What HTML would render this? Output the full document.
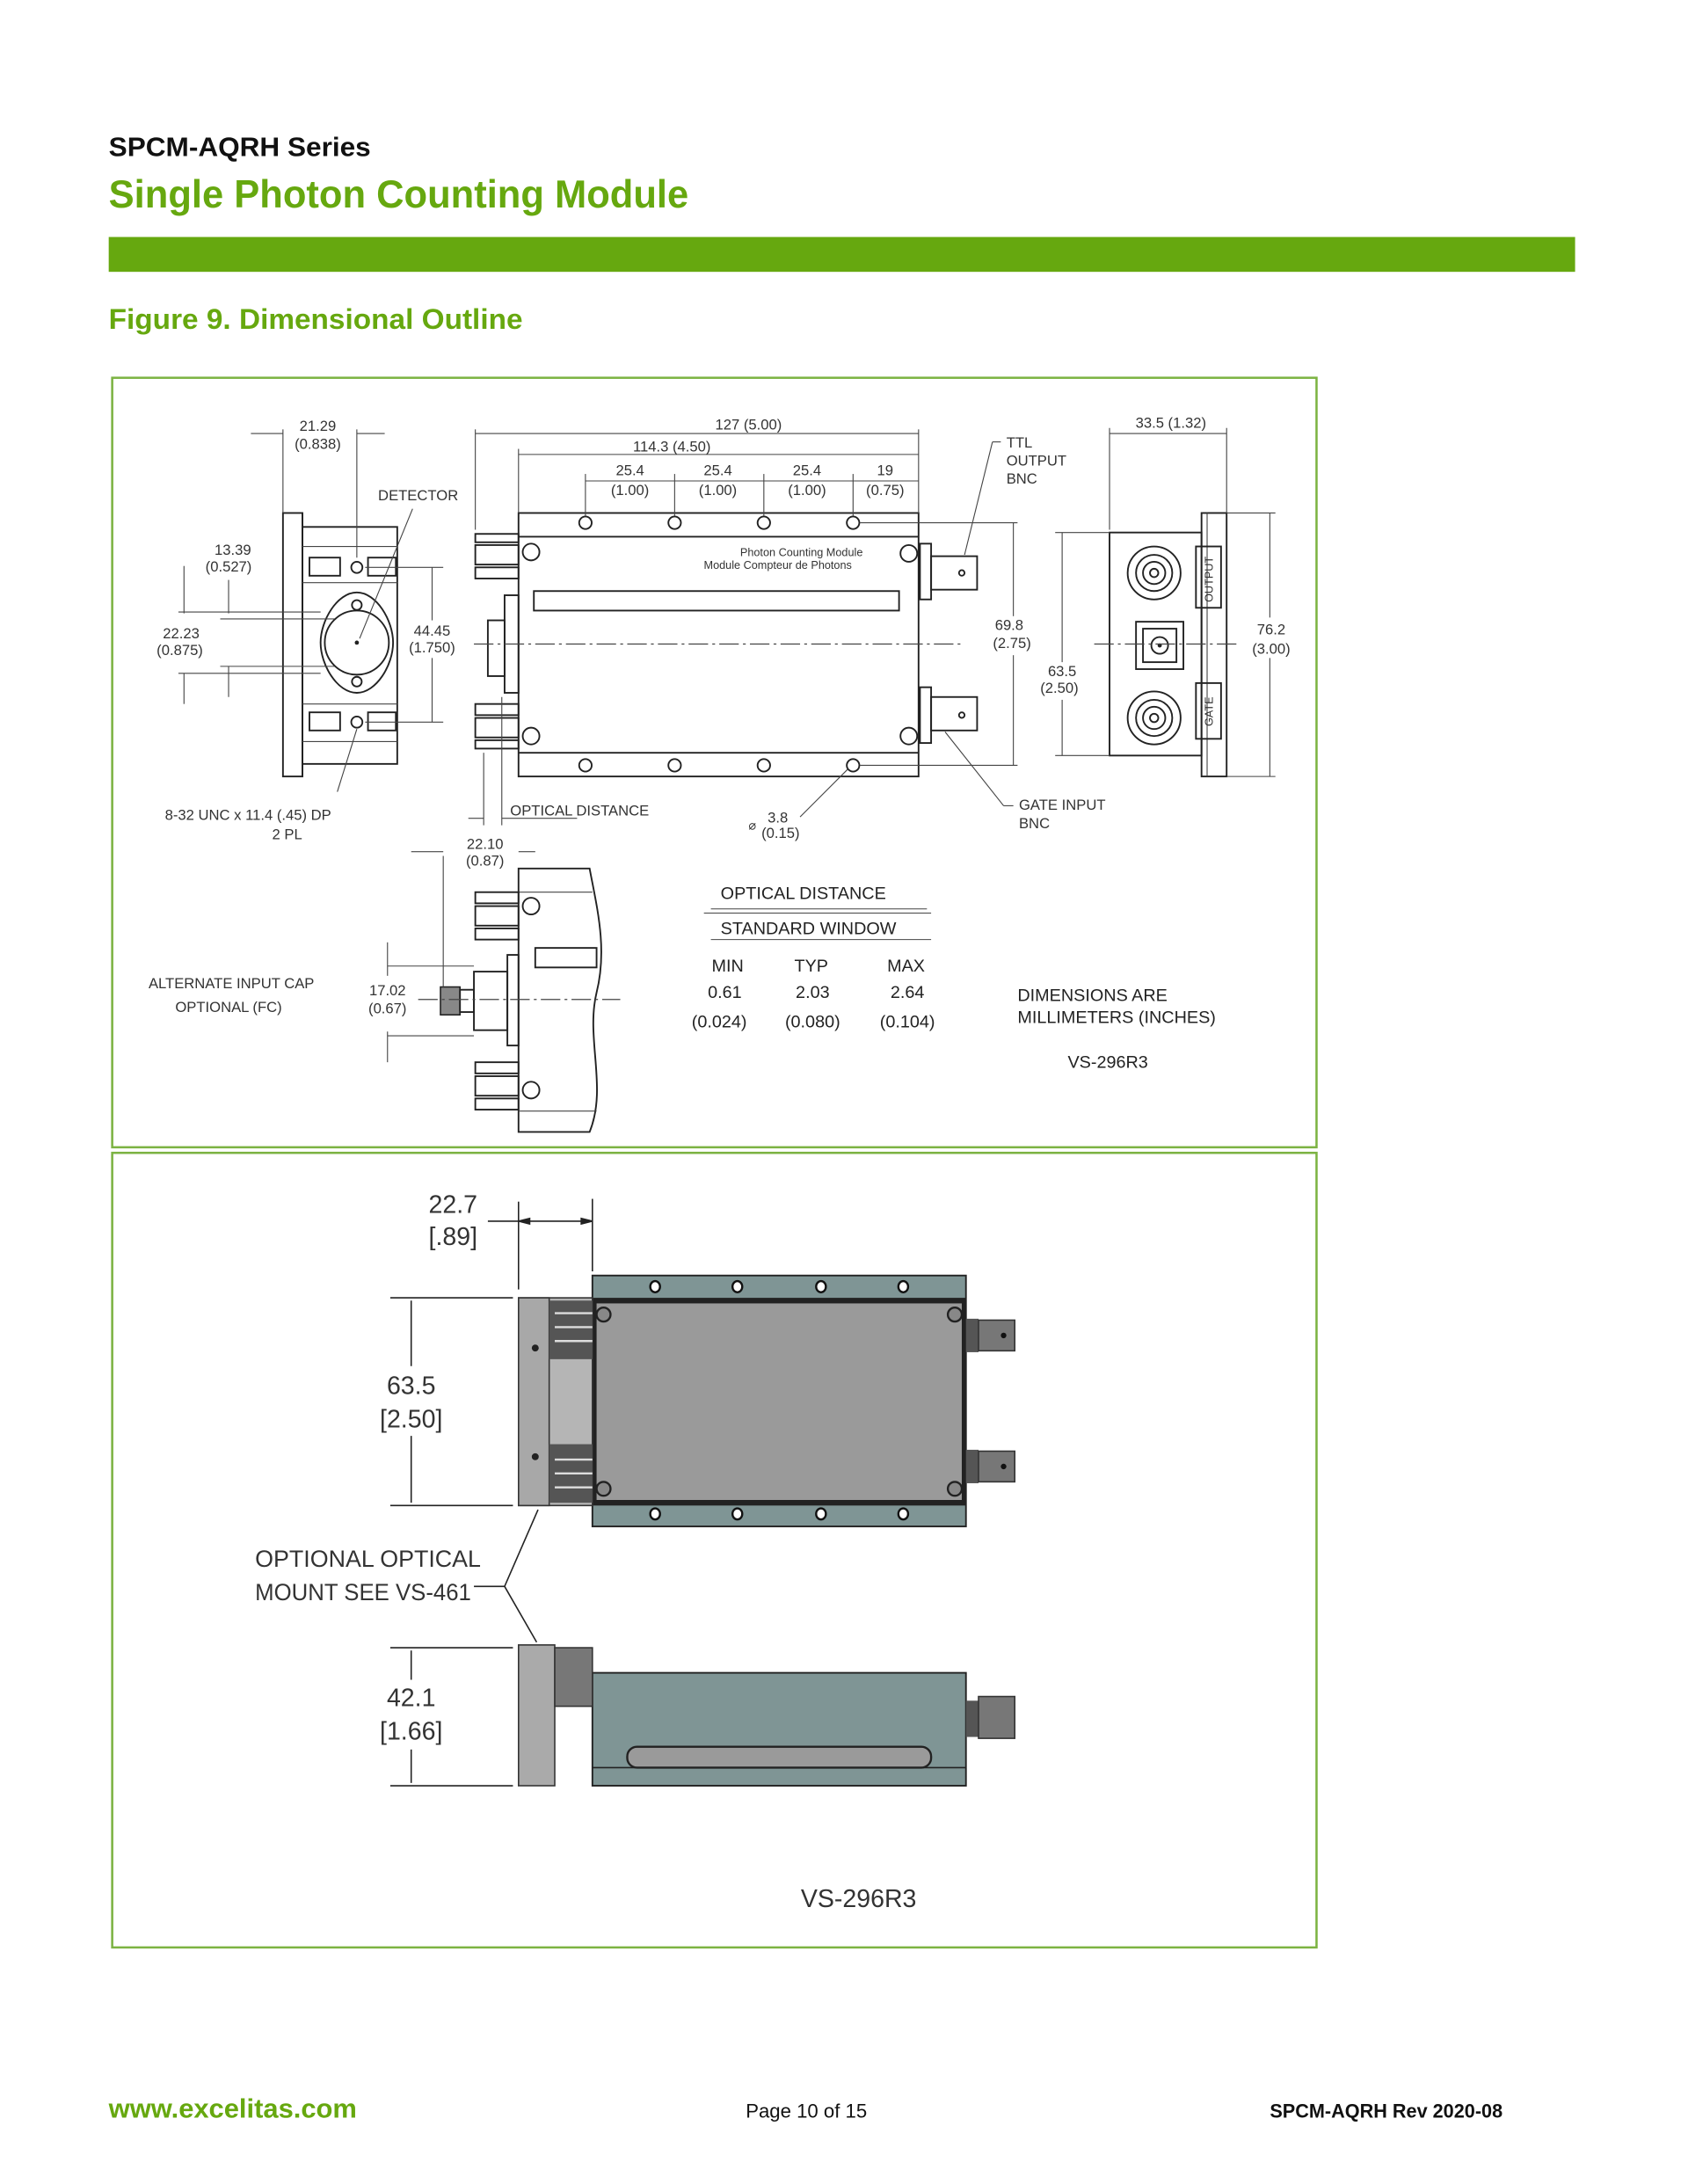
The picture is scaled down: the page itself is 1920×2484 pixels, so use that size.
<!DOCTYPE html>
<html><head><meta charset="utf-8"><style>
html,body{margin:0;padding:0;background:#fff}
svg{display:block}
text{font-family:"Liberation Sans",sans-serif}
.d{font-size:10.5px;fill:#333}
.k{stroke:#222;fill:none;stroke-width:1.2}
.t{stroke:#444;fill:none;stroke-width:0.7}
.c{stroke:#444;stroke-width:0.8;stroke-dasharray:14 3 2 3;fill:none}
</style></head><body>
<svg width="1920" height="2484" viewBox="0 0 1211 1566.7" preserveAspectRatio="none" xmlns="http://www.w3.org/2000/svg">
<!-- header -->
<text x="78" y="112" font-size="19.5" font-weight="bold" fill="#111" textLength="188" lengthAdjust="spacingAndGlyphs">SPCM-AQRH Series</text>
<text x="78" y="149" font-size="28" font-weight="bold" fill="#66a80f" textLength="416" lengthAdjust="spacingAndGlyphs">Single Photon Counting Module</text>
<rect x="78" y="170" width="1052" height="25" fill="#66a80f"/>
<text x="78" y="236" font-size="20.5" font-weight="bold" fill="#66a80f" textLength="297" lengthAdjust="spacingAndGlyphs">Figure 9.  Dimensional Outline</text>
<rect x="80.5" y="271" width="864" height="552" fill="none" stroke="#7cb342" stroke-width="1.6"/>
<rect x="80.5" y="827" width="864" height="570" fill="none" stroke="#7cb342" stroke-width="1.6"/>

<!-- ===== front view (left) ===== -->
<g>
<rect x="203" y="368" width="14" height="189" class="k"/>
<rect x="217" y="378" width="68" height="170" class="k"/>
<line x1="217" y1="368" x2="217" y2="557" class="k"/>
<rect x="222" y="400" width="22" height="13" class="k"/><rect x="264" y="400" width="20" height="13" class="k"/>
<rect x="222" y="511" width="22" height="13" class="k"/><rect x="264" y="511" width="20" height="13" class="k"/>
<line x1="217" y1="418" x2="285" y2="418" class="t"/><line x1="217" y1="505" x2="285" y2="505" class="t"/>
<line x1="217" y1="392" x2="285" y2="392" class="t"/><line x1="217" y1="532" x2="285" y2="532" class="t"/>
<circle cx="256" cy="407" r="4" class="k"/><circle cx="256" cy="518" r="4" class="k"/>
<path d="M256 425 C270 425 282 445 282 461 C282 477 270 497 256 497 C242 497 230 477 230 461 C230 445 242 425 256 425Z" class="k"/>
<circle cx="256" cy="461" r="23" class="k"/><circle cx="256" cy="461" r="1.5" fill="#222"/>
<circle cx="256" cy="434" r="3.5" class="k"/><circle cx="256" cy="489" r="3.5" class="k"/>
<line x1="203" y1="308" x2="203" y2="368" class="t"/><line x1="256" y1="308" x2="256" y2="400" class="t"/>
<line x1="180" y1="311" x2="203" y2="311" class="t"/><line x1="256" y1="311" x2="276" y2="311" class="t"/>
<text x="228" y="309" class="d" text-anchor="middle">21.29</text><text x="228" y="322" class="d" text-anchor="middle">(0.838)</text>
<text x="300" y="359" class="d" text-anchor="middle" font-size="11">DETECTOR</text>
<line x1="296" y1="365" x2="258" y2="458" class="t"/>
<text x="167" y="398" class="d" text-anchor="middle">13.39</text><text x="164" y="410" class="d" text-anchor="middle">(0.527)</text>
<line x1="132" y1="406" x2="132" y2="440" class="t"/><line x1="164" y1="416" x2="164" y2="440" class="t"/>
<line x1="128" y1="439" x2="230" y2="439" class="t"/><line x1="158" y1="444" x2="240" y2="444" class="t"/>
<line x1="158" y1="478" x2="240" y2="478" class="t"/><line x1="128" y1="483" x2="230" y2="483" class="t"/>
<line x1="164" y1="478" x2="164" y2="500" class="t"/><line x1="132" y1="483" x2="132" y2="505" class="t"/>
<text x="130" y="458" class="d" text-anchor="middle">22.23</text><text x="129" y="470" class="d" text-anchor="middle">(0.875)</text>
<line x1="262" y1="407" x2="318" y2="407" class="t"/><line x1="262" y1="518" x2="318" y2="518" class="t"/>
<line x1="310" y1="407" x2="310" y2="445" class="t"/><line x1="310" y1="472" x2="310" y2="518" class="t"/>
<text x="310" y="456" class="d" text-anchor="middle">44.45</text><text x="310" y="468" class="d" text-anchor="middle">(1.750)</text>
<line x1="242" y1="568" x2="256" y2="523" class="t"/>
<text x="178" y="588" class="d" text-anchor="middle">8-32 UNC x 11.4 (.45) DP</text><text x="206" y="602" class="d" text-anchor="middle">2 PL</text>
</g>

<!-- ===== side view (middle) ===== -->
<g>
<rect x="372" y="368" width="287" height="189" class="k"/>
<line x1="372" y1="385" x2="659" y2="385" class="k" stroke-width="2"/>
<line x1="372" y1="540" x2="659" y2="540" class="k" stroke-width="2"/>
<g class="k"><circle cx="420" cy="375" r="4.5"/><circle cx="484" cy="375" r="4.5"/><circle cx="548" cy="375" r="4.5"/><circle cx="612" cy="375" r="4.5"/>
<circle cx="420" cy="549" r="4.5"/><circle cx="484" cy="549" r="4.5"/><circle cx="548" cy="549" r="4.5"/><circle cx="612" cy="549" r="4.5"/></g>
<rect x="383" y="424" width="262" height="14" class="k"/>
<g class="k"><circle cx="381" cy="396" r="6"/><circle cx="652" cy="397" r="6"/><circle cx="381" cy="528" r="6"/><circle cx="652" cy="528" r="6"/></g>
<text x="575" y="399" font-size="8" fill="#333" text-anchor="middle">Photon Counting Module</text>
<text x="558" y="408" font-size="8" fill="#333" text-anchor="middle">Module Compteur de Photons</text>
<rect x="341" y="383" width="31" height="6" class="k"/><rect x="341" y="391" width="31" height="14" class="k"/><rect x="341" y="407" width="31" height="8" class="k"/>
<rect x="341" y="505" width="31" height="8" class="k"/><rect x="341" y="515" width="31" height="14" class="k"/><rect x="341" y="531" width="31" height="6" class="k"/>
<rect x="362" y="427" width="10" height="70" class="k"/><rect x="350" y="445" width="12" height="40" class="k"/>
<rect x="660" y="390" width="8" height="40" class="k"/><rect x="668" y="399" width="33" height="24" class="k"/><circle cx="690" cy="411" r="2" class="k"/>
<rect x="660" y="493" width="8" height="40" class="k"/><rect x="668" y="500" width="33" height="24" class="k"/><circle cx="690" cy="513" r="2" class="k"/>
<line x1="340" y1="462" x2="690" y2="462" class="c"/>
<line x1="341" y1="308" x2="341" y2="380" class="t"/><line x1="659" y1="308" x2="659" y2="368" class="t"/>
<line x1="341" y1="311" x2="659" y2="311" class="t"/>
<text x="537" y="308" class="d" text-anchor="middle">127 (5.00)</text>
<line x1="372" y1="322" x2="372" y2="368" class="t"/><line x1="372" y1="326" x2="659" y2="326" class="t"/>
<text x="482" y="324" class="d" text-anchor="middle">114.3 (4.50)</text>
<line x1="420" y1="340" x2="420" y2="370" class="t"/><line x1="484" y1="340" x2="484" y2="370" class="t"/><line x1="548" y1="340" x2="548" y2="370" class="t"/><line x1="612" y1="340" x2="612" y2="370" class="t"/>
<line x1="420" y1="345" x2="659" y2="345" class="t"/>
<text x="452" y="341" class="d" text-anchor="middle">25.4</text><text x="452" y="355" class="d" text-anchor="middle">(1.00)</text>
<text x="515" y="341" class="d" text-anchor="middle">25.4</text><text x="515" y="355" class="d" text-anchor="middle">(1.00)</text>
<text x="579" y="341" class="d" text-anchor="middle">25.4</text><text x="579" y="355" class="d" text-anchor="middle">(1.00)</text>
<text x="635" y="341" class="d" text-anchor="middle">19</text><text x="635" y="355" class="d" text-anchor="middle">(0.75)</text>
<line x1="692" y1="398" x2="712" y2="317" class="t"/><line x1="712" y1="317" x2="718" y2="317" class="t"/>
<text x="722" y="321" class="d">TTL</text><text x="722" y="334" class="d">OUTPUT</text><text x="722" y="347" class="d">BNC</text>
<line x1="617" y1="375" x2="730" y2="375" class="t"/><line x1="617" y1="549" x2="730" y2="549" class="t"/>
<line x1="727" y1="375" x2="727" y2="442" class="t"/><line x1="727" y1="470" x2="727" y2="549" class="t"/>
<text x="724" y="452" class="d" text-anchor="middle">69.8</text><text x="726" y="465" class="d" text-anchor="middle">(2.75)</text>
<line x1="678" y1="525" x2="720" y2="578" class="t"/><line x1="720" y1="578" x2="727" y2="578" class="t"/>
<text x="731" y="581" class="d">GATE INPUT</text><text x="731" y="594" class="d">BNC</text>
<line x1="574" y1="586" x2="608" y2="552" class="t"/>
<text x="537" y="595" font-size="9" fill="#333">⌀</text><text x="558" y="590" class="d" text-anchor="middle">3.8</text><text x="560" y="601" class="d" text-anchor="middle">(0.15)</text>
<line x1="347" y1="540" x2="347" y2="592" class="t"/><line x1="360" y1="500" x2="360" y2="592" class="t"/>
<line x1="336" y1="587" x2="347" y2="587" class="t"/><line x1="360" y1="587" x2="414" y2="587" class="t"/>
<text x="366" y="585" class="d" font-size="11">OPTICAL DISTANCE</text>
</g>

<!-- ===== end view (right) ===== -->
<g>
<rect x="796" y="382" width="66" height="160" class="k"/>
<rect x="862" y="368" width="18" height="189" class="k"/>
<line x1="866" y1="368" x2="866" y2="557" class="t"/>
<circle cx="828" cy="411" r="19" class="k"/><circle cx="828" cy="411" r="13" class="k"/><circle cx="828" cy="411" r="8" class="k"/><circle cx="828" cy="411" r="3" class="k"/>
<rect x="815" y="446" width="34" height="34" class="k"/><rect x="820" y="451" width="24" height="24" class="k"/><circle cx="832" cy="463" r="6" class="k"/><circle cx="832" cy="463" r="1.5" fill="#222"/>
<circle cx="828" cy="515" r="19" class="k"/><circle cx="828" cy="515" r="13" class="k"/><circle cx="828" cy="515" r="8" class="k"/><circle cx="828" cy="515" r="3" class="k"/>
<rect x="858" y="392" width="18" height="44" class="k"/><rect x="858" y="490" width="18" height="40" class="k"/>
<text transform="translate(870,432) rotate(-90)" font-size="8" fill="#333">OUTPUT</text>
<text transform="translate(870,521) rotate(-90)" font-size="8" fill="#333">GATE</text>
<line x1="785" y1="462" x2="890" y2="462" class="c"/>
<line x1="796" y1="307" x2="796" y2="380" class="t"/><line x1="880" y1="307" x2="880" y2="368" class="t"/><line x1="796" y1="311" x2="880" y2="311" class="t"/>
<text x="840" y="307" class="d" text-anchor="middle">33.5 (1.32)</text>
<line x1="757" y1="382" x2="796" y2="382" class="t"/><line x1="757" y1="542" x2="796" y2="542" class="t"/>
<line x1="762" y1="382" x2="762" y2="475" class="t"/><line x1="762" y1="502" x2="762" y2="542" class="t"/>
<text x="762" y="485" class="d" text-anchor="middle">63.5</text><text x="760" y="497" class="d" text-anchor="middle">(2.50)</text>
<line x1="880" y1="368" x2="915" y2="368" class="t"/><line x1="880" y1="557" x2="915" y2="557" class="t"/>
<line x1="911" y1="368" x2="911" y2="443" class="t"/><line x1="911" y1="472" x2="911" y2="557" class="t"/>
<text x="912" y="455" class="d" text-anchor="middle">76.2</text><text x="912" y="469" class="d" text-anchor="middle">(3.00)</text>
</g>

<!-- ===== alternate cap detail ===== -->
<g>
<path d="M372 623 L423 623 C428 650 436 680 428 712 C420 745 436 780 423 812 L372 812Z" class="k"/>
<line x1="372" y1="640" x2="425" y2="640" class="t"/><line x1="372" y1="797" x2="428" y2="797" class="t"/>
<rect x="384" y="680" width="44" height="14" class="k"/>
<circle cx="381" cy="650" r="6" class="k"/><circle cx="381" cy="782" r="6" class="k"/>
<rect x="341" y="640" width="31" height="8" class="k"/><rect x="341" y="650" width="31" height="14" class="k"/><rect x="341" y="666" width="31" height="8" class="k"/>
<rect x="341" y="762" width="31" height="8" class="k"/><rect x="341" y="772" width="31" height="14" class="k"/><rect x="341" y="788" width="31" height="8" class="k"/>
<rect x="364" y="685" width="8" height="65" class="k"/><rect x="340" y="697" width="24" height="42" class="k"/>
<rect x="316" y="708" width="14" height="20" fill="#888" stroke="#222"/><rect x="330" y="710" width="10" height="16" class="k"/>
<line x1="300" y1="717" x2="445" y2="717" class="c"/>
<line x1="278" y1="693" x2="340" y2="693" class="t"/><line x1="278" y1="743" x2="340" y2="743" class="t"/>
<line x1="278" y1="676" x2="278" y2="700" class="t"/><line x1="278" y1="740" x2="278" y2="762" class="t"/>
<text x="278" y="714" class="d" text-anchor="middle">17.02</text><text x="278" y="727" class="d" text-anchor="middle">(0.67)</text>
<line x1="318" y1="614" x2="318" y2="708" class="t"/><line x1="295" y1="611" x2="318" y2="611" class="t"/><line x1="372" y1="611" x2="384" y2="611" class="t"/>
<text x="348" y="609" class="d" text-anchor="middle">22.10</text><text x="348" y="621" class="d" text-anchor="middle">(0.87)</text>
<text x="166" y="709" class="d" text-anchor="middle">ALTERNATE INPUT CAP</text><text x="164" y="726" class="d" text-anchor="middle">OPTIONAL (FC)</text>
</g>

<!-- table -->
<g font-size="12.5" fill="#222">
<text x="517" y="645">OPTICAL DISTANCE</text>
<line x1="510" y1="652" x2="665" y2="652" class="t"/><line x1="505" y1="655" x2="668" y2="655" class="t"/>
<text x="517" y="670">STANDARD WINDOW</text>
<line x1="510" y1="674" x2="668" y2="674" class="t"/>
<text x="522" y="697" text-anchor="middle">MIN</text><text x="582" y="697" text-anchor="middle">TYP</text><text x="650" y="697" text-anchor="middle">MAX</text>
<text x="520" y="716" text-anchor="middle">0.61</text><text x="583" y="716" text-anchor="middle">2.03</text><text x="651" y="716" text-anchor="middle">2.64</text>
<text x="516" y="737" text-anchor="middle">(0.024)</text><text x="583" y="737" text-anchor="middle">(0.080)</text><text x="651" y="737" text-anchor="middle">(0.104)</text>
<text x="730" y="718">DIMENSIONS ARE</text><text x="730" y="734">MILLIMETERS (INCHES)</text>
<text x="766" y="766">VS-296R3</text>
</g>

<!-- ===== bottom panel ===== -->
<g>
<rect x="425" y="915" width="268" height="180" fill="#7f9595" stroke="#222" stroke-width="1.2"/>
<rect x="425" y="931" width="268" height="149" fill="#222"/>
<rect x="428" y="935" width="262" height="141" fill="#9a9a9a"/>
<g fill="#fff" stroke="#111" stroke-width="1.5">
<ellipse cx="470" cy="923" rx="3.5" ry="4"/><ellipse cx="529" cy="923" rx="3.5" ry="4"/><ellipse cx="589" cy="923" rx="3.5" ry="4"/><ellipse cx="648" cy="923" rx="3.5" ry="4"/>
<ellipse cx="470" cy="1086" rx="3.5" ry="4"/><ellipse cx="529" cy="1086" rx="3.5" ry="4"/><ellipse cx="589" cy="1086" rx="3.5" ry="4"/><ellipse cx="648" cy="1086" rx="3.5" ry="4"/></g>
<g fill="#888" stroke="#222" stroke-width="1.5"><circle cx="433" cy="943" r="5"/><circle cx="685" cy="943" r="5"/><circle cx="433" cy="1068" r="5"/><circle cx="685" cy="1068" r="5"/></g>
<rect x="372" y="931" width="53" height="149" fill="#b5b5b5" stroke="#333"/>
<rect x="372" y="931" width="22" height="149" fill="#a8a8a8" stroke="#333"/>
<rect x="394" y="933" width="31" height="42" fill="#555"/><rect x="394" y="1036" width="31" height="42" fill="#555"/>
<g stroke="#ddd" stroke-width="1.5"><line x1="398" y1="942" x2="425" y2="942"/><line x1="398" y1="952" x2="425" y2="952"/><line x1="398" y1="962" x2="425" y2="962"/><line x1="398" y1="1047" x2="425" y2="1047"/><line x1="398" y1="1057" x2="425" y2="1057"/><line x1="398" y1="1067" x2="425" y2="1067"/></g>
<circle cx="384" cy="967" r="2.5" fill="#222"/><circle cx="384" cy="1045" r="2.5" fill="#222"/>
<rect x="693" y="946" width="9" height="24" fill="#555"/><rect x="702" y="947" width="26" height="22" fill="#777" stroke="#333"/><circle cx="720" cy="958" r="2" fill="#111"/>
<rect x="693" y="1040" width="9" height="24" fill="#555"/><rect x="702" y="1041" width="26" height="22" fill="#777" stroke="#333"/><circle cx="720" cy="1052" r="2" fill="#111"/>
<!-- side -->
<rect x="425" y="1200" width="268" height="81" fill="#7f9595" stroke="#222" stroke-width="1.2"/>
<line x1="425" y1="1268" x2="693" y2="1268" stroke="#222"/>
<rect x="450" y="1253" width="218" height="15" rx="7" fill="#9a9a9a" stroke="#222" stroke-width="1.5"/>
<rect x="372" y="1180" width="26" height="101" fill="#aaa" stroke="#333"/>
<rect x="398" y="1182" width="27" height="42" fill="#777" stroke="#333"/>
<rect x="693" y="1220" width="9" height="26" fill="#555"/><rect x="702" y="1217" width="26" height="30" fill="#777" stroke="#333"/>
<g stroke="#222" stroke-width="1" fill="none">
<line x1="372" y1="862" x2="372" y2="925"/><line x1="425" y1="860" x2="425" y2="912"/>
<line x1="350" y1="876" x2="425" y2="876"/><path d="M372 876 l8 -2 v4z M425 876 l-8 -2 v4z" fill="#222"/>
<line x1="280" y1="931" x2="368" y2="931"/><line x1="280" y1="1080" x2="368" y2="1080"/>
<line x1="295" y1="933" x2="295" y2="980"/><line x1="295" y1="1030" x2="295" y2="1078"/>
<line x1="280" y1="1182" x2="368" y2="1182"/><line x1="280" y1="1281" x2="368" y2="1281"/>
<line x1="295" y1="1184" x2="295" y2="1205"/><line x1="295" y1="1255" x2="295" y2="1279"/>
<line x1="340" y1="1138" x2="362" y2="1138"/><line x1="362" y1="1138" x2="386" y2="1083"/><line x1="362" y1="1138" x2="385" y2="1178"/>
</g>
<g font-size="18" fill="#333" text-anchor="middle">
<text x="325" y="870">22.7</text><text x="325" y="893">[.89]</text>
<text x="295" y="1000">63.5</text><text x="295" y="1024">[2.50]</text>
<text x="295" y="1224">42.1</text><text x="295" y="1248">[1.66]</text>
<text x="616" y="1368">VS-296R3</text>
</g>
<text x="183" y="1124" font-size="17" fill="#333" textLength="162" lengthAdjust="spacingAndGlyphs">OPTIONAL OPTICAL</text>
<text x="183" y="1148" font-size="17" fill="#333" textLength="155" lengthAdjust="spacingAndGlyphs">MOUNT SEE VS-461</text>
</g>

<!-- footer -->
<text x="78" y="1519" font-size="19" font-weight="bold" fill="#66a80f" textLength="178" lengthAdjust="spacingAndGlyphs">www.excelitas.com</text>
<text x="535" y="1519" font-size="14" fill="#111" textLength="87" lengthAdjust="spacingAndGlyphs">Page 10 of 15</text>
<text x="911" y="1519" font-size="14" font-weight="bold" fill="#111" textLength="167" lengthAdjust="spacingAndGlyphs">SPCM-AQRH Rev 2020-08</text>
</svg>
</body></html>
